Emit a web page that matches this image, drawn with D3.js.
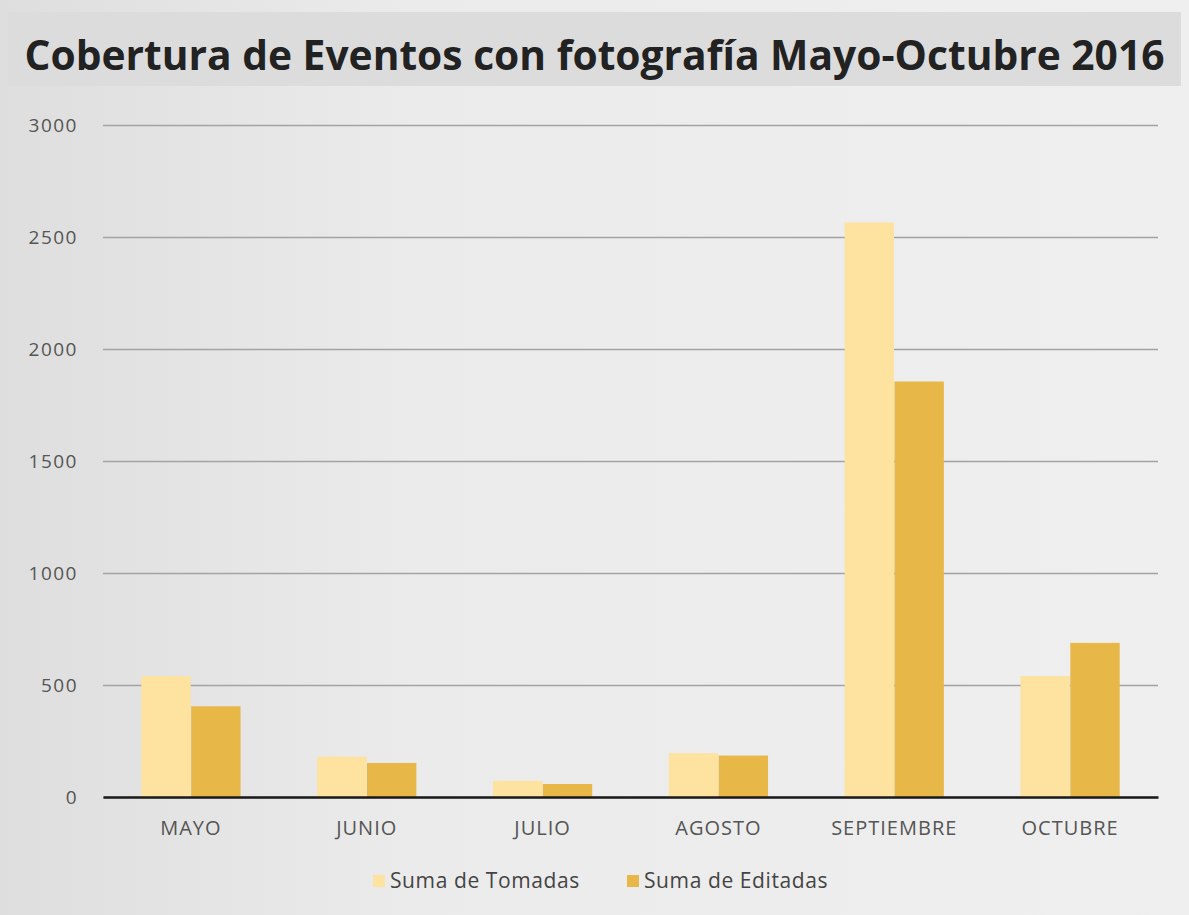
<!DOCTYPE html>
<html>
<head>
<meta charset="utf-8">
<script src="https://cdn.jsdelivr.net/npm/d3@7"></script>
<style>
  body { margin: 0; background: #e9e9e9; }
  svg { display: block; }
</style>
</head>
<body>
<div id="chart"></div>
<script>
// Data
var months = ["MAYO", "JUNIO", "JULIO", "AGOSTO", "SEPTIEMBRE", "OCTUBRE"];
var seriesNames = ["Suma de Tomadas", "Suma de Editadas"];
var tomadas = [540, 180, 72, 195, 2565, 540];
var editadas = [405, 152, 58, 185, 1855, 688];
var yTicks = [0, 500, 1000, 1500, 2000, 2500, 3000];

var W = 1189, H = 915;
var margin = {top: 125, right: 31, bottom: 118, left: 103},
    width = W - margin.left - margin.right,
    height = H - margin.top - margin.bottom;

var svg = d3.select("#chart").append("svg")
  .attr("width", W)
  .attr("height", H);

// paper-ish background
var defs = svg.append("defs");
var grad = defs.append("linearGradient").attr("id", "bg").attr("x1", 0).attr("x2", 1);
grad.append("stop").attr("offset", "0%").attr("stop-color", "#dedede");
grad.append("stop").attr("offset", "35%").attr("stop-color", "#ebebeb");
grad.append("stop").attr("offset", "100%").attr("stop-color", "#efefef");
svg.append("rect").attr("width", W).attr("height", H).attr("fill", "url(#bg)");

// title band
svg.append("rect")
  .attr("x", 8).attr("y", 12).attr("width", W - 16).attr("height", 74)
  .attr("fill", "#dcdcdc");
svg.append("text")
  .attr("x", W / 2).attr("y", 70)
  .attr("text-anchor", "middle")
  .attr("textLength", 1140)
  .attr("lengthAdjust", "spacingAndGlyphs")
  .style("font-family", "'Open Sans', sans-serif")
  .style("font-weight", "bold")
  .style("font-size", "41px")
  .attr("fill", "#222")
  .text("Cobertura de Eventos con fotografía Mayo-Octubre 2016");

var g = svg.append("g")
  .attr("transform", "translate(" + margin.left + "," + margin.top + ")");

var x = d3.scaleBand().domain(months).range([0, width]).paddingInner(0.43).paddingOuter(0.215);
var xSub = d3.scaleBand().domain(seriesNames).range([0, x.bandwidth()]).padding(0.01);
var y = d3.scaleLinear().domain([0, 3000]).range([height, 0]);
var color = d3.scaleOrdinal().domain(seriesNames).range(["#fde2a0", "#e7b748"]);

// gridlines
g.append("g")
  .call(d3.axisLeft(y).tickValues(yTicks).tickSize(-width).tickFormat(""))
  .call(function(s) { s.select(".domain").remove(); })
  .selectAll("line").attr("stroke", "#a3a3a3").attr("stroke-width", 1.5);

// y labels
g.append("g")
  .call(d3.axisLeft(y).tickValues(yTicks).tickSize(0).tickPadding(25).tickFormat(d3.format("d")))
  .call(function(s) { s.select(".domain").remove(); })
  .selectAll("text")
  .style("font-family", "'Open Sans', sans-serif")
  .style("font-size", "19px")
  .style("letter-spacing", "1.5px")
  .attr("fill", "#555");

var rows = months.map(function(m, i) { return {month: m, values: [tomadas[i], editadas[i]]}; });

g.append("g").selectAll("g").data(rows).enter().append("g")
  .attr("transform", function(d) { return "translate(" + x(d.month) + ",0)"; })
  .selectAll("rect")
  .data(function(d) { return seriesNames.map(function(k, j) { return {key: k, value: d.values[j]}; }); })
  .enter().append("rect")
  .attr("x", function(d) { return xSub(d.key); })
  .attr("y", function(d) { return y(d.value); })
  .attr("width", xSub.bandwidth())
  .attr("height", function(d) { return height - y(d.value); })
  .attr("fill", function(d) { return color(d.key); });

// x axis
var xa = g.append("g")
  .attr("transform", "translate(0," + height + ")")
  .call(d3.axisBottom(x).tickSize(0).tickPadding(24));
xa.select(".domain").attr("stroke", "#1a1a1a").attr("stroke-width", 2.5);
xa.selectAll("text")
  .style("font-family", "'Open Sans', sans-serif")
  .style("font-size", "20px")
  .style("letter-spacing", "1px")
  .attr("fill", "#555");

// legend
var legend = svg.append("g").attr("transform", "translate(373,881)");
var items = legend.selectAll("g").data(seriesNames).enter().append("g")
  .attr("transform", function(d, i) { return "translate(" + (i * 254) + ",0)"; });
items.append("rect")
  .attr("x", 0).attr("y", -6).attr("width", 12).attr("height", 12)
  .attr("fill", function(d) { return color(d); });
items.append("text")
  .attr("x", 17).attr("y", 7)
  .style("font-family", "'Open Sans', sans-serif")
  .style("font-size", "21px")
  .style("letter-spacing", "0.6px")
  .attr("fill", "#444")
  .text(function(d) { return d; });
</script>
</body>
</html>
